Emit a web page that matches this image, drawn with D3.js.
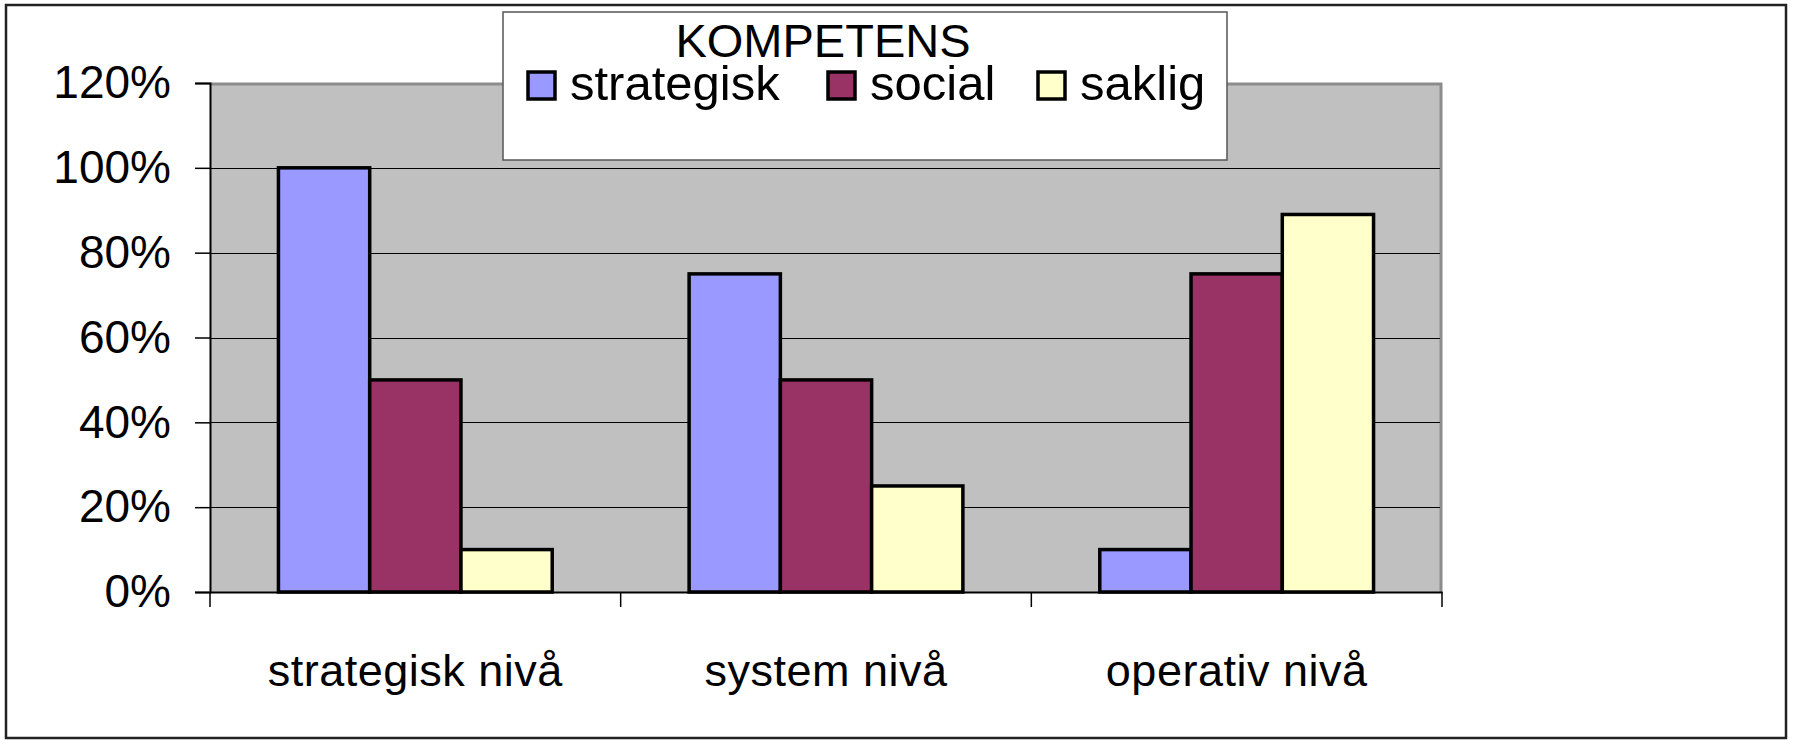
<!DOCTYPE html>
<html>
<head>
<meta charset="utf-8">
<script src="https://cdn.jsdelivr.net/npm/d3@7"></script>
<style>
  body { margin: 0; background: #fff; }
  svg { display: block; font-family: Arial, "Liberation Sans", sans-serif; }
</style>
</head>
<body>
<svg id="chart"></svg>
<script>
// data
var categories = ['strategisk nivå', 'system nivå', 'operativ nivå'];
var seriesNames = ['strategisk', 'social', 'saklig'];
var strategisk = [100, 75, 10];
var social = [50, 50, 75];
var saklig = [10, 25, 89];
var yTicks = [0, 20, 40, 60, 80, 100, 120];
var colors = ['#9999FF', '#993366', '#FFFFCC'];

var width = 1793, height = 740;
var plot = { left: 210, right: 1442, top: 83, bottom: 592 };

var svg = d3.select('#chart')
    .attr('width', width)
    .attr('height', height);

// outer frame
svg.append('rect')
    .attr('x', 6).attr('y', 5)
    .attr('width', 1780).attr('height', 733)
    .attr('fill', '#fff')
    .attr('stroke', '#222')
    .attr('stroke-width', 2.5);

var x0 = d3.scaleBand()
    .domain(categories)
    .range([plot.left, plot.right])
    .padding(0);

// gap width 150% -> 3 bars + 1.5 bar of gap
var x1 = d3.scaleBand()
    .domain(seriesNames)
    .range([x0.bandwidth() * 0.75 / 4.5, x0.bandwidth() - x0.bandwidth() * 0.75 / 4.5])
    .padding(0);

var y = d3.scaleLinear()
    .domain([0, 120])
    .range([plot.bottom, plot.top]);

// wall
svg.append('rect')
    .attr('x', plot.left).attr('y', plot.top)
    .attr('width', plot.right - plot.left)
    .attr('height', plot.bottom - plot.top)
    .attr('fill', '#C0C0C0');

svg.append('path')
    .attr('d', 'M' + plot.left + ',' + (plot.top + 1) + 'H' + (plot.right - 1) + 'V' + plot.bottom)
    .attr('fill', 'none')
    .attr('stroke', '#8c8c8c')
    .attr('stroke-width', 3);

// gridlines
svg.append('g')
    .selectAll('line')
    .data(yTicks.filter(function(d) { return d > 0 && d < 120; }))
    .enter()
    .append('line')
    .attr('x1', plot.left).attr('x2', plot.right - 2)
    .attr('y1', function(d) { return Math.round(y(d)) + 0.5; })
    .attr('y2', function(d) { return Math.round(y(d)) + 0.5; })
    .attr('stroke', '#000')
    .attr('stroke-width', 1.2);

// bars
var seriesData = [strategisk, social, saklig];
var groups = svg.append('g')
    .selectAll('g')
    .data(categories)
    .enter()
    .append('g')
    .attr('transform', function(d) { return 'translate(' + x0(d) + ',0)'; });

groups.selectAll('rect')
    .data(function(d, i) {
        return seriesNames.map(function(s, j) {
            return { name: s, value: seriesData[j][i], color: colors[j] };
        });
    })
    .enter()
    .append('rect')
    .attr('x', function(d) { return x1(d.name); })
    .attr('width', x1.bandwidth())
    .attr('y', function(d) { return y(d.value); })
    .attr('height', function(d) { return y(0) - y(d.value); })
    .attr('fill', function(d) { return d.color; })
    .attr('stroke', '#000')
    .attr('stroke-width', 3.5);

// y axis
var yAxis = d3.axisLeft(y)
    .tickValues(yTicks)
    .tickSize(15)
    .tickPadding(24)
    .tickFormat(function(d) { return d + '%'; });

var gy = svg.append('g')
    .attr('transform', 'translate(' + plot.left + ',0)')
    .call(yAxis);
gy.select('.domain').attr('stroke', '#000').attr('stroke-width', 2);
gy.selectAll('.tick line').attr('stroke', '#000').attr('stroke-width', 1.5);
gy.selectAll('.tick text')
    .attr('font-size', 46)
    .attr('fill', '#000')
    .attr('font-family', 'Arial, "Liberation Sans", sans-serif');

// x axis
var xAxis = d3.axisBottom(x0)
    .tickSize(0)
    .tickPadding(62);

var gx = svg.append('g')
    .attr('transform', 'translate(0,' + plot.bottom + ')')
    .call(xAxis);
gx.select('.domain').attr('stroke', '#000').attr('stroke-width', 2);
gx.selectAll('.tick text')
    .attr('font-size', 45)
    .attr('fill', '#000')
    .attr('letter-spacing', 0.5)
    .attr('font-family', 'Arial, "Liberation Sans", sans-serif');

// category separator ticks
var bounds = categories.map(function(c) { return x0(c); }).concat([plot.right]);
gx.selectAll('.sep')
    .data(bounds)
    .enter()
    .append('line')
    .attr('class', 'sep')
    .attr('x1', function(d) { return d; })
    .attr('x2', function(d) { return d; })
    .attr('y1', 0).attr('y2', 15)
    .attr('stroke', '#000')
    .attr('stroke-width', 1.5);

// legend
var legend = svg.append('g');
legend.append('rect')
    .attr('x', 503).attr('y', 12)
    .attr('width', 724).attr('height', 148)
    .attr('fill', '#fff')
    .attr('stroke', '#555')
    .attr('stroke-width', 1.5);

legend.append('text')
    .attr('x', 823).attr('y', 57)
    .attr('text-anchor', 'middle')
    .attr('font-size', 47)
    .text('KOMPETENS');

var legendX = [528, 828, 1038];
var items = legend.selectAll('.item')
    .data(seriesNames)
    .enter()
    .append('g')
    .attr('class', 'item')
    .attr('transform', function(d, i) { return 'translate(' + legendX[i] + ',0)'; });

items.append('rect')
    .attr('x', 0).attr('y', 72)
    .attr('width', 27).attr('height', 27)
    .attr('fill', function(d, i) { return colors[i]; })
    .attr('stroke', '#000')
    .attr('stroke-width', 3.5);

items.append('text')
    .attr('x', 42).attr('y', 100)
    .attr('font-size', 49)
    .text(function(d) { return d; });
</script>
</body>
</html>
